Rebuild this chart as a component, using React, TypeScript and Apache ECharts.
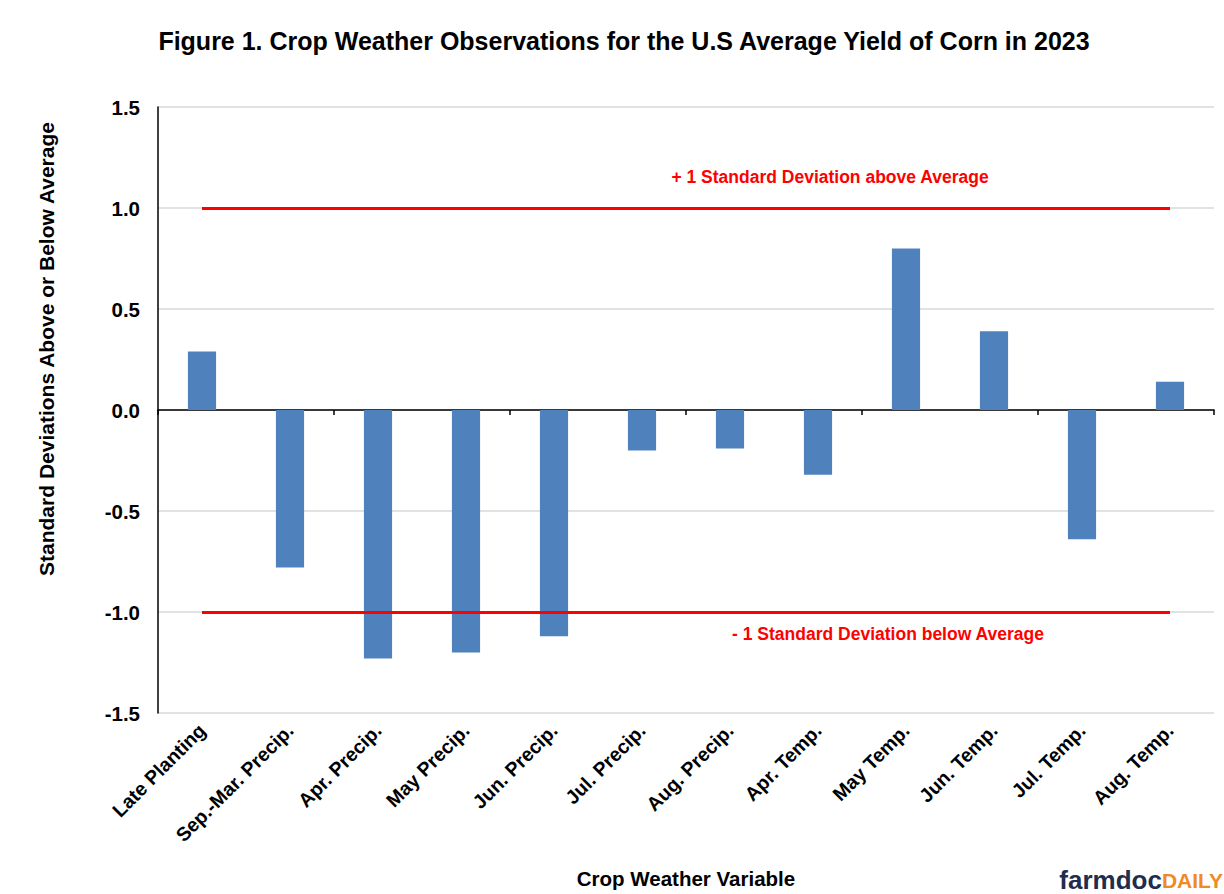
import React, { useEffect, useRef } from "react";
import * as echarts from "echarts";

const categories = [
  "Late Planting",
  "Sep.-Mar. Precip.",
  "Apr. Precip.",
  "May Precip.",
  "Jun. Precip.",
  "Jul. Precip.",
  "Aug. Precip.",
  "Apr. Temp.",
  "May Temp.",
  "Jun. Temp.",
  "Jul. Temp.",
  "Aug. Temp.",
];
const values = [0.29, -0.78, -1.23, -1.2, -1.12, -0.2, -0.19, -0.32, 0.8, 0.39, -0.64, 0.14];
const upperBand = 1;
const lowerBand = -1;
const titleText = "Figure 1. Crop Weather Observations for the U.S Average Yield of Corn in 2023";
const upperLabel = "+ 1 Standard Deviation above Average";
const lowerLabel = "- 1 Standard Deviation below Average";

const FONT = "Arial, 'Liberation Sans', sans-serif";

export default function App() {
  const ref = useRef<HTMLDivElement>(null);
  useEffect(() => {
    if (!ref.current) return;
    const chart = echarts.init(ref.current, undefined, { renderer: "svg" });
    chart.setOption({
      animation: false,
      backgroundColor: "#ffffff",
      textStyle: { fontFamily: FONT },
      title: {
        text: titleText,
        left: 619,
        top: 23,
        textAlign: "center",
        textStyle: { fontSize: 25, fontWeight: "bold", color: "#000", fontFamily: FONT },
      },
      grid: {
        left: 158,
        right: 10,
        top: 107,
        bottom: 181,
        containLabel: false,
        outerBoundsMode: "none",
      },
      xAxis: [
        {
          type: "category",
          data: categories,
          position: "bottom",
          axisLine: { onZero: true, lineStyle: { color: "#000", width: 1.5 } },
          axisTick: { show: true, length: 5, lineStyle: { color: "#000", width: 1.5 } },
          axisLabel: { show: false },
          splitLine: { show: false },
        },
        {
          type: "category",
          data: categories,
          position: "bottom",
          axisLine: { show: false, onZero: false },
          axisTick: { show: false },
          axisLabel: {
            show: true,
            rotate: 45,
            margin: 14,
            interval: 0,
            fontSize: 19.5,
            fontWeight: "bold",
            color: "#000",
            fontFamily: FONT,
          },
          name: "Crop Weather Variable",
          nameLocation: "middle",
          nameGap: 155,
          nameTextStyle: { fontSize: 20.5, fontWeight: "bold", color: "#000", fontFamily: FONT },
        },
      ],
      yAxis: {
        type: "value",
        min: -1.5,
        max: 1.5,
        interval: 0.5,
        axisLine: { show: true, lineStyle: { color: "#000", width: 1.5 } },
        axisTick: { show: false },
        axisLabel: {
          formatter: (v: number) => v.toFixed(1),
          fontSize: 20.5,
          fontWeight: "bold",
          color: "#000",
          margin: 18,
          fontFamily: FONT,
        },
        splitLine: { show: true, lineStyle: { color: "#d9d9d9", width: 1.5 } },
      },
      series: [
        {
          type: "bar",
          xAxisIndex: 0,
          data: values,
          barWidth: "32%",
          itemStyle: { color: "#4f81bd" },
          markLine: {
            silent: true,
            symbol: "none",
            label: { show: false },
            lineStyle: { color: "#ff0000", width: 3, type: "solid" },
            data: [
              [
                { coord: [categories[0], upperBand] },
                { coord: [categories[categories.length - 1], upperBand] },
              ],
              [
                { coord: [categories[0], lowerBand] },
                { coord: [categories[categories.length - 1], lowerBand] },
              ],
            ],
          },
        },
      ],
      graphic: [
        {
          type: "text",
          x: 46,
          y: 349,
          rotation: Math.PI / 2,
          style: {
            text: "Standard Deviations Above or Below Average",
            fontSize: 21,
            fontWeight: "bold",
            fill: "#000",
            fontFamily: FONT,
            align: "center",
            verticalAlign: "middle",
          },
        },
        {
          type: "text",
          x: 830,
          y: 177,
          style: {
            text: upperLabel,
            fontSize: 17.5,
            fontWeight: "bold",
            fill: "#ff0000",
            fontFamily: FONT,
            align: "center",
            verticalAlign: "middle",
          },
        },
        {
          type: "text",
          x: 888,
          y: 634,
          style: {
            text: lowerLabel,
            fontSize: 17.5,
            fontWeight: "bold",
            fill: "#ff0000",
            fontFamily: FONT,
            align: "center",
            verticalAlign: "middle",
          },
        },
        {
          type: "text",
          right: 1,
          bottom: 1,
          style: {
            text: "{a|farmdoc}{b|DAILY}",
            rich: {
              a: { fontSize: 26, fontWeight: "bold", fill: "#1f2d4e", fontFamily: FONT },
              b: { fontSize: 21, fontWeight: "bold", fill: "#f08a22", fontFamily: FONT },
            },
          },
        },
      ],
    });
    return () => chart.dispose();
  }, []);
  return (
    <div
      ref={ref}
      style={{ position: "fixed", left: 0, top: 0, width: 1224, height: 894 }}
    />
  );
}
